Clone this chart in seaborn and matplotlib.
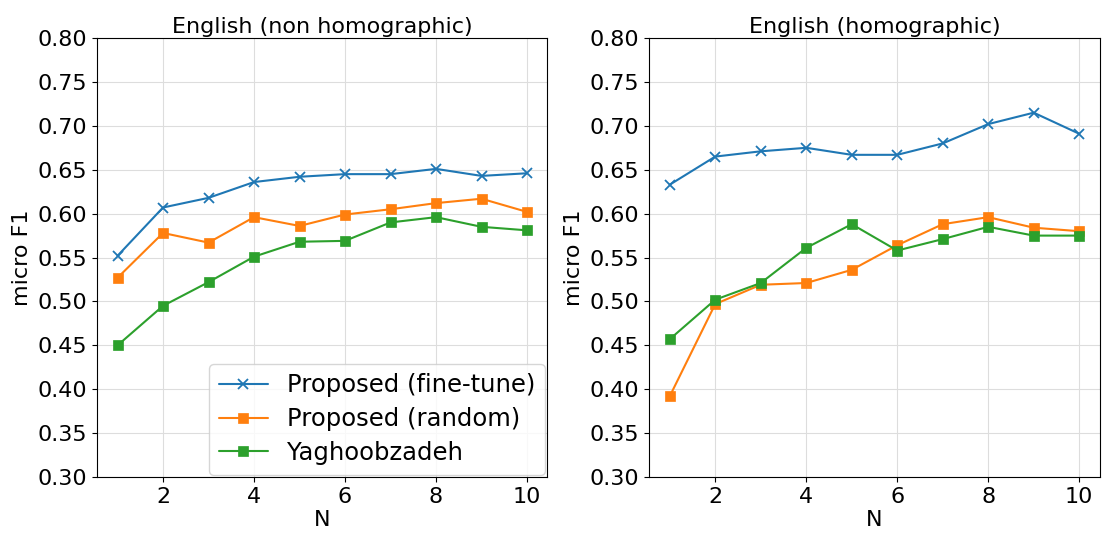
import matplotlib
matplotlib.use("Agg")
import matplotlib.pyplot as plt
import seaborn as sns
import pandas as pd

N = [1, 2, 3, 4, 5, 6, 7, 8, 9, 10]

labels = ["Proposed (fine-tune)", "Proposed (random)", "Yaghoobzadeh"]

# English (non homographic)
nonhomo_finetune = [0.552, 0.607, 0.618, 0.636, 0.642, 0.645, 0.645, 0.651, 0.643, 0.646]
nonhomo_random = [0.527, 0.578, 0.567, 0.596, 0.586, 0.599, 0.605, 0.612, 0.617, 0.602]
nonhomo_yagh = [0.450, 0.495, 0.522, 0.551, 0.568, 0.569, 0.590, 0.596, 0.585, 0.581]

# English (homographic)
homo_finetune = [0.633, 0.665, 0.671, 0.675, 0.667, 0.667, 0.680, 0.702, 0.715, 0.691]
homo_random = [0.392, 0.497, 0.519, 0.521, 0.536, 0.564, 0.588, 0.596, 0.584, 0.580]
homo_yagh = [0.457, 0.502, 0.521, 0.561, 0.588, 0.558, 0.571, 0.585, 0.575, 0.575]

titles = ["English (non homographic)", "English (homographic)"]

sns.set_style("ticks")
plt.rcParams["font.family"] = ["DejaVu Sans"]
plt.rcParams.update({
    "text.color": "black",
    "axes.labelcolor": "black",
    "xtick.color": "black",
    "ytick.color": "black",
})

colors = ["#1f77b4", "#ff7f0e", "#2ca02c"]
markers = ["x", "s", "s"]

fig, axes = plt.subplots(1, 2, figsize=(11.03, 5.36), dpi=100)
fig.subplots_adjust(left=0.088, right=0.997, top=0.929, bottom=0.11, wspace=0.226)

panels = [
    [nonhomo_finetune, nonhomo_random, nonhomo_yagh],
    [homo_finetune, homo_random, homo_yagh],
]

for ax, title, series in zip(axes, titles, panels):
    for vals, lab, col, mk in zip(series, labels, colors, markers):
        df = pd.DataFrame({"N": N, "F1": vals})
        sns.lineplot(
            data=df, x="N", y="F1", ax=ax,
            color=col, marker=mk, markersize=7,
            markeredgecolor=col, markeredgewidth=1.3 if mk == "x" else 0.5,
            linewidth=1.5, label=lab
        )
    ax.set_ylim(0.30, 0.80)
    ax.set_yticks([0.30 + 0.05 * i for i in range(11)])
    ax.set_xticks([2, 4, 6, 8, 10])
    ax.grid(True, color="#dddddd", linewidth=0.8)
    ax.set_axisbelow(True)
    ax.set_title(title, fontsize=16, pad=4)
    ax.set_xlabel("N", fontsize=16, labelpad=2)
    ax.set_ylabel("micro F1", fontsize=16)
    ax.tick_params(labelsize=16)
    for sp in ax.spines.values():
        sp.set_visible(True)
        sp.set_color("black")
        sp.set_linewidth(0.8)

axes[0].legend(loc="lower right", fontsize=17.5, borderaxespad=0.1,
               handlelength=2.0, labelspacing=0.4)
axes[1].get_legend().remove()

fig.savefig("out.png", dpi=100)
